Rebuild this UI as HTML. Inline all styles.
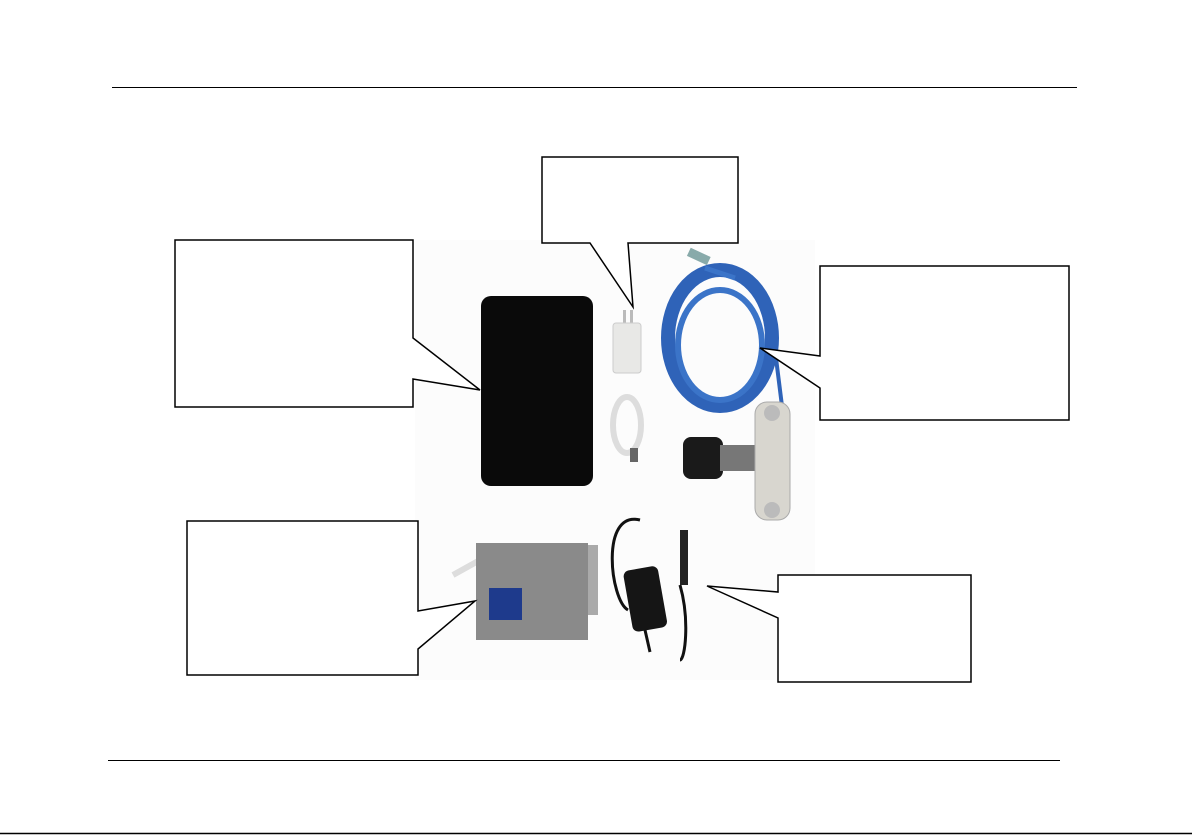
<!DOCTYPE html>
<html><head><meta charset="utf-8"><style>html,body{margin:0;padding:0;background:#fff}svg{display:block}</style></head>
<body>
<svg width="1192" height="835" viewBox="0 0 1192 835" xmlns="http://www.w3.org/2000/svg">
<rect width="1192" height="835" fill="#fff"/>
<line x1="112" y1="87.5" x2="1077" y2="87.5" stroke="#000" stroke-width="1"/>
<line x1="108" y1="760.5" x2="1060" y2="760.5" stroke="#000" stroke-width="1"/>
<line x1="0" y1="833.5" x2="1192" y2="833.5" stroke="#000" stroke-width="1.5"/>
<rect x="415" y="240" width="400" height="440" fill="#fcfcfc"/>
<!-- tablet -->
<rect x="481" y="296" width="112" height="190" rx="10" fill="#0a0a0a"/>
<!-- charger -->
<rect x="623" y="310" width="3" height="14" fill="#bbb"/><rect x="630" y="310" width="3" height="14" fill="#bbb"/>
<rect x="613" y="323" width="28" height="50" rx="3" fill="#e8e8e6" stroke="#ccc"/>
<!-- white cable -->
<ellipse cx="627" cy="425" rx="14" ry="28" fill="none" stroke="#ddd" stroke-width="6"/>
<rect x="630" y="448" width="8" height="14" fill="#666"/>
<!-- blue cable -->
<ellipse cx="720" cy="338" rx="52" ry="68" fill="none" stroke="#2f63b8" stroke-width="14"/>
<ellipse cx="720" cy="345" rx="42" ry="55" fill="none" stroke="#3b74c8" stroke-width="6"/>
<line x1="705" y1="268" x2="735" y2="278" stroke="#3b74c8" stroke-width="5"/>
<rect x="688" y="252" width="22" height="9" fill="#8aa" transform="rotate(25 699 256)"/>
<line x1="775" y1="350" x2="785" y2="430" stroke="#2f63b8" stroke-width="4"/>
<!-- sensor -->
<rect x="683" y="437" width="40" height="42" rx="8" fill="#1a1a1a"/>
<rect x="720" y="445" width="45" height="26" fill="#777"/>
<rect x="755" y="402" width="35" height="118" rx="12" fill="#d8d6cf" stroke="#aaa"/>
<circle cx="772" cy="413" r="8" fill="#bbb"/><circle cx="772" cy="510" r="8" fill="#bbb"/>
<!-- box -->
<path d="M453 575 L480 560" stroke="#ddd" stroke-width="6"/>
<rect x="476" y="543" width="112" height="97" fill="#8a8a8a"/>
<rect x="588" y="545" width="10" height="70" fill="#aaa"/>
<rect x="489" y="588" width="33" height="32" fill="#1e3a8c"/>
<!-- adapter -->
<path d="M640 520 C600 510 610 600 628 610" stroke="#111" stroke-width="3" fill="none"/>
<path d="M680 585 C690 620 685 660 680 660" stroke="#111" stroke-width="3" fill="none"/>
<rect x="680" y="530" width="8" height="55" fill="#222"/>
<rect x="628" y="568" width="35" height="62" rx="6" fill="#151515" transform="rotate(-10 645 600)"/>
<path d="M645 630 L650 652" stroke="#111" stroke-width="3"/>
<!-- callouts -->
<g fill="#fff" stroke="#000" stroke-width="1.5" stroke-linejoin="miter">
<polygon points="542,157 738,157 738,243 628,243 633,307 590,243 542,243"/>
<polygon points="175,240 413,240 413,338 480,390 413,379 413,407 175,407"/>
<polygon points="820,266 1069,266 1069,420 820,420 820,388 760,348 820,356"/>
<polygon points="187,521 418,521 418,611 475,601 418,649 418,675 187,675"/>
<polygon points="778,575 971,575 971,682 778,682 778,618 707,586 778,592"/>
</g>
</svg>
</body></html>
